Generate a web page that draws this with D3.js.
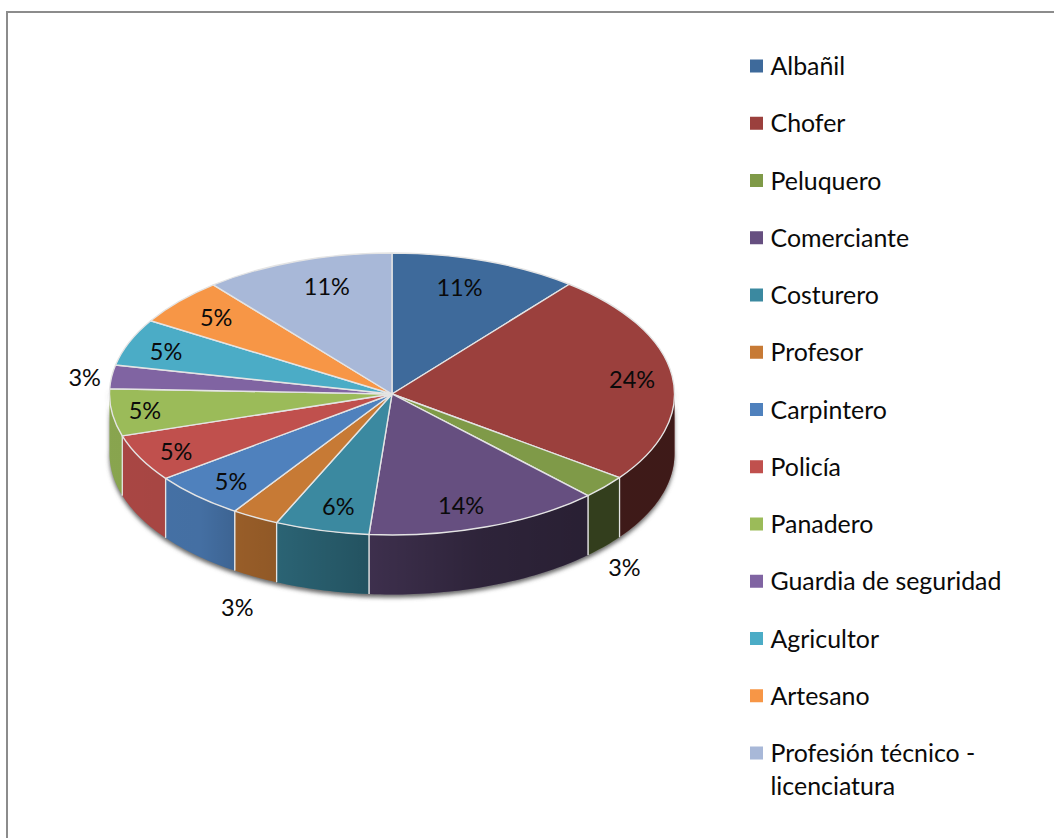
<!DOCTYPE html>
<html><head><meta charset="utf-8">
<script src="https://cdn.jsdelivr.net/npm/d3@7/dist/d3.min.js"></script>
<style>html,body{margin:0;padding:0;background:#fff;overflow:hidden}svg{display:block}text{font-family:Lato,"Open Sans",sans-serif;fill:#0a0a0a}</style>
</head><body><svg id="c" width="1054" height="838"></svg>
<script>
const categories = ["Albañil","Chofer","Peluquero","Comerciante","Costurero","Profesor","Carpintero","Policía","Panadero","Guardia de seguridad","Agricultor","Artesano","Profesión técnico - licenciatura"];
const shares = [10.8,24.3,2.7,13.5,5.4,2.7,5.4,5.4,5.4,2.7,5.4,5.4,10.9];
const percentLabels = ["11%","24%","3%","14%","6%","3%","5%","5%","5%","3%","5%","5%","11%"];
const colours = ["#3e6a9b","#9b403d","#7f9a48","#664f80","#3b89a0","#c77a35","#4f81bd","#c0504d","#9bbb59","#8064a2","#4bacc6","#f79646","#a8b8d8"];
const labelNudges = [[-3,-7],[30,-1],[73,103],[-2,11],[-1,10],[-52,120],[-15,10],[-27,9],[-37,2],[-97,-4],[-29,-4],[-16,-8],[6,-8]];
const legendLines = {"Profesión técnico - licenciatura":["Profesión técnico -","licenciatura"]};

const svg = d3.select("#c");
const cx=392, cy=394, rx=282.5, ry=141, depth=59.5, edge="#e4e4e4";
const defs = svg.append("defs");
defs.append("filter").attr("id","blur").attr("x","-10%").attr("y","-10%").attr("width","120%").attr("height","120%")
  .append("feGaussianBlur").attr("stdDeviation",2.2);
const shade = defs.append("linearGradient").attr("id","shade").attr("gradientUnits","userSpaceOnUse")
  .attr("x1",cx-rx).attr("x2",cx+rx).attr("y1",0).attr("y2",0);
[[109,.12],[200,.14],[240,.24],[280,.28],[370,.4],[480,.55],[585,.6],[674,.6]].forEach(([x,a])=>
  shade.append("stop").attr("offset",(x-(cx-rx))/(2*rx)).attr("stop-color","#000").attr("stop-opacity",a));

// frame
svg.append("path").attr("d","M1054,12H7V838").attr("fill","none").attr("stroke","#8c8c8c").attr("stroke-width",2);

const pie = d3.pie().value(d=>d).sort(null);
const arcs = pie(shares);
const ex = a=>cx+rx*Math.sin(a), ey = a=>cy-ry*Math.cos(a);

function wallPath(a0,a1){
  const n=Math.max(2,Math.ceil((a1-a0)/0.02));
  const angles=d3.range(n+1).map(i=>a0+(a1-a0)*i/n);
  const top=angles.map(a=>[ex(a),ey(a)]);
  const bottom=angles.slice().reverse().map(a=>[ex(a),ey(a)+depth]);
  return d3.line()(top.concat(bottom))+"Z";
}
// soft shadow under the body
svg.append("path").attr("d",wallPath(Math.PI/2-0.05,Math.PI*1.5+0.05))
  .attr("transform","translate(0,3)").attr("fill","#666").attr("filter","url(#blur)");

// walls
const walls = svg.append("g");
arcs.forEach((d,i)=>{
  const a0=Math.max(d.startAngle,Math.PI/2), a1=Math.min(d.endAngle,Math.PI*1.5);
  if(a1<=a0) return;
  const p=wallPath(a0,a1);
  walls.append("path").attr("d",p).attr("fill",colours[i]);
  walls.append("path").attr("d",p).attr("fill","url(#shade)");
  [d.startAngle,d.endAngle].forEach(a=>{
    if(a>Math.PI/2 && a<Math.PI*1.5)
      walls.append("line").attr("x1",ex(a)).attr("x2",ex(a)).attr("y1",ey(a)).attr("y2",ey(a)+depth)
        .attr("stroke",edge).attr("stroke-width",1.2);
  });
});

// top face
const arc = d3.arc().innerRadius(0).outerRadius(rx);
svg.append("g").attr("transform",`translate(${cx},${cy}) scale(1,${ry/rx})`)
  .selectAll("path").data(arcs).join("path")
  .attr("d",arc).attr("fill",(d,i)=>colours[i])
  .attr("stroke",edge).attr("stroke-width",1.4).attr("vector-effect","non-scaling-stroke")
  .attr("stroke-linejoin","round");

// percent labels
const lr=0.75;
svg.append("g").selectAll("text").data(arcs).join("text")
  .attr("text-anchor","middle").attr("dominant-baseline","central").attr("font-size",23.5)
  .attr("x",(d,i)=>cx+lr*rx*Math.sin((d.startAngle+d.endAngle)/2)+labelNudges[i][0])
  .attr("y",(d,i)=>cy-lr*ry*Math.cos((d.startAngle+d.endAngle)/2)+labelNudges[i][1])
  .text((d,i)=>percentLabels[i]);

// legend
const ly = d3.scalePoint().domain(categories).range([65,752]);
const leg = svg.append("g").selectAll("g").data(categories).join("g")
  .attr("transform",d=>`translate(750,${ly(d)})`);
leg.append("rect").attr("x",0).attr("y",-5.5).attr("width",13).attr("height",13).attr("fill",(d,i)=>colours[i]);
leg.each(function(d){
  const lines=legendLines[d]||[d];
  const g=d3.select(this);
  lines.forEach((t,k)=>g.append("text").attr("x",20.5).attr("y",k*33).attr("dominant-baseline","central")
    .attr("font-size",24.9).text(t));
});
</script></body></html>
